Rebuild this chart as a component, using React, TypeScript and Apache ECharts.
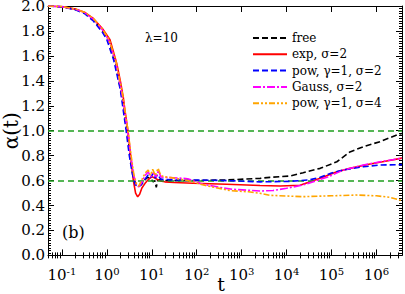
import React, { useEffect, useRef } from "react";
import * as echarts from "echarts";

// x values are log10(t)
const X_MIN = -1.31;
const X_MAX = 6.57;
const xMajorExps = [-1, 0, 1, 2, 3, 4, 5, 6];
const refLevels = [1.0, 0.6];

const freeCurve = [
  [-1.31, 2.0], [-1.0, 1.994], [-0.7, 1.972], [-0.5, 1.945], [-0.3, 1.89], [-0.1, 1.8],
  [0.05, 1.72], [0.2, 1.53], [0.35, 1.25], [0.45, 1.0], [0.52, 0.8], [0.58, 0.65],
  [0.64, 0.57], [0.7, 0.55], [0.76, 0.565], [0.83, 0.6], [0.9, 0.625], [0.97, 0.62],
  [1.03, 0.59], [1.07, 0.6], [1.1, 0.545], [1.13, 0.6], [1.2, 0.61], [1.3, 0.6],
  [1.5, 0.6], [1.92, 0.6], [2.67, 0.605], [3.41, 0.618], [3.63, 0.626], [4.08, 0.637],
  [4.37, 0.663], [4.75, 0.698], [5.12, 0.751], [5.41, 0.83], [5.71, 0.872], [6.08, 0.912],
  [6.49, 0.971], [6.57, 0.978],
];
const expCurve = [
  [-1.31, 2.0], [-1.0, 1.995], [-0.7, 1.975], [-0.5, 1.95], [-0.3, 1.9], [-0.1, 1.82],
  [0.07, 1.73], [0.22, 1.54], [0.3, 1.4], [0.365, 1.27], [0.4, 1.17], [0.47, 1.0],
  [0.53, 0.8], [0.59, 0.6], [0.64, 0.5], [0.686, 0.47], [0.73, 0.49], [0.78, 0.54],
  [0.85, 0.578], [0.93, 0.61], [1.0, 0.63], [1.07, 0.62], [1.145, 0.605], [1.22, 0.595],
  [1.29, 0.59], [1.5, 0.585], [1.92, 0.578], [2.67, 0.57], [3.41, 0.56], [3.86, 0.557],
  [4.3, 0.563], [4.75, 0.618], [5.12, 0.671], [5.41, 0.698], [5.86, 0.733], [6.2, 0.755],
  [6.57, 0.78],
];
const powCurve = [
  [-1.31, 2.0], [-1.0, 1.993], [-0.7, 1.97], [-0.5, 1.94], [-0.3, 1.88], [-0.1, 1.79],
  [0.0, 1.73], [0.15, 1.57], [0.3, 1.33], [0.43, 1.0], [0.5, 0.8], [0.57, 0.65],
  [0.63, 0.57], [0.7, 0.548], [0.77, 0.57], [0.85, 0.61], [0.92, 0.645], [0.98, 0.625],
  [1.03, 0.66], [1.08, 0.62], [1.13, 0.65], [1.2, 0.61], [1.3, 0.61], [1.5, 0.605],
  [1.92, 0.605], [2.67, 0.6], [3.41, 0.59], [3.63, 0.591], [4.08, 0.594], [4.5, 0.605],
  [4.75, 0.626], [5.0, 0.66], [5.27, 0.685], [5.71, 0.711], [6.08, 0.725], [6.57, 0.728],
];
const gaussCurve = [
  [-1.31, 2.0], [-1.0, 1.994], [-0.7, 1.974], [-0.5, 1.948], [-0.3, 1.895], [-0.1, 1.81],
  [0.05, 1.72], [0.2, 1.55], [0.35, 1.27], [0.46, 1.0], [0.53, 0.8], [0.6, 0.64],
  [0.66, 0.565], [0.71, 0.55], [0.77, 0.58], [0.85, 0.64], [0.92, 0.67], [0.98, 0.63],
  [1.03, 0.66], [1.1, 0.63], [1.15, 0.68], [1.2, 0.63], [1.3, 0.625], [1.6, 0.62],
  [1.8, 0.615], [2.14, 0.57], [2.3, 0.56], [2.6, 0.54], [2.8, 0.53], [3.41, 0.516],
  [3.7, 0.52], [4.0, 0.538], [4.37, 0.565], [4.9, 0.626], [5.27, 0.685], [5.71, 0.725],
  [6.08, 0.751], [6.57, 0.78],
];
const pow4Curve = [
  [-1.31, 2.0], [-1.0, 1.995], [-0.7, 1.976], [-0.5, 1.95], [-0.3, 1.9], [-0.1, 1.815],
  [0.05, 1.73], [0.2, 1.56], [0.35, 1.29], [0.47, 1.0], [0.54, 0.8], [0.6, 0.65],
  [0.66, 0.57], [0.71, 0.555], [0.77, 0.6], [0.85, 0.66], [0.92, 0.685], [0.97, 0.64],
  [1.02, 0.69], [1.08, 0.64], [1.14, 0.7], [1.2, 0.64], [1.3, 0.63], [1.5, 0.62],
  [1.8, 0.6], [2.2, 0.56], [2.74, 0.52], [3.15, 0.51], [3.41, 0.498], [3.63, 0.482],
  [4.37, 0.471], [5.0, 0.478], [5.55, 0.484], [6.0, 0.478], [6.3, 0.466], [6.57, 0.44],
];

const seriesNames = ["free", "exp, σ=2", "pow, γ=1, σ=2", "Gauss, σ=2", "pow, γ=1, σ=4"];
const seriesColors = ["#000000", "#ff0000", "#0000ff", "#ff00ff", "#ffa500"];
const seriesDash: any[] = [[6, 3], "solid", [6, 3], [8, 2, 2, 2], [6, 2, 2, 2, 2, 2]];
const seriesData = [freeCurve, expCurve, powCurve, gaussCurve, pow4Curve];

const FONT = "DejaVu Serif";

export default function App() {
  const ref = useRef<HTMLDivElement>(null);
  useEffect(() => {
    const chart = echarts.init(ref.current!, undefined, { renderer: "svg" });
    const xMinor: number[] = [];
    for (let k = -2; k <= 6; k++) {
      for (let m = 2; m <= 9; m++) {
        const v = k + Math.log10(m);
        if (v > X_MIN && v < X_MAX) xMinor.push(v);
      }
    }
    const axisLine = { show: true, onZero: false, lineStyle: { color: "#000", width: 1 } };
    const xAxisBase = (pos: string, ticks: number[], len: number, showLine: boolean) => ({
      type: "value",
      position: pos,
      min: X_MIN,
      max: X_MAX,
      gridIndex: 0,
      splitLine: { show: false },
      axisLine: showLine ? axisLine : { show: false },
      axisLabel: { show: false },
      axisTick: { show: true, inside: true, length: len, customValues: ticks, lineStyle: { color: "#000", width: 1 } },
    });
    const xAxes: any[] = [
      {
        ...xAxisBase("bottom", xMajorExps, 6, true),
        name: "t",
        nameLocation: "middle",
        nameGap: 18,
        nameMoveOverlap: false,
        nameTextStyle: { fontFamily: FONT, fontSize: 19, color: "#000", lineHeight: 17, padding: [2, 8, 0, 0] },
        axisLabel: {
          show: true,
          customValues: xMajorExps,
          margin: 11,
          formatter: (v: number) => `{b|10}{s|${Math.round(v)}}`,
          rich: {
            b: { fontFamily: FONT, fontSize: 15, color: "#000", lineHeight: 17 },
            s: { fontFamily: FONT, fontSize: 10, color: "#000", verticalAlign: "top", lineHeight: 10 },
          },
        },
      },
      xAxisBase("bottom", xMinor, 3, false),
      xAxisBase("top", xMajorExps, 6, true),
      xAxisBase("top", xMinor, 3, false),
    ];
    const yAxisBase = (pos: string, labels: boolean) => ({
      type: "value",
      position: pos,
      min: 0,
      max: 2,
      interval: 0.2,
      splitLine: { show: false },
      axisLine,
      axisTick: { show: true, inside: true, length: 6, lineStyle: { color: "#000" } },
      minorTick: { show: true, splitNumber: 10, length: 3, lineStyle: { color: "#000" } },
      axisLabel: {
        show: labels,
        margin: 3,
        formatter: (v: number) => v.toFixed(1),
        fontFamily: FONT,
        fontSize: 15,
        color: "#000",
      },
    });
    const yAxes: any[] = [
      {
        ...yAxisBase("left", true),
        name: "α(t)",
        nameLocation: "middle",
        nameGap: 27,
        nameMoveOverlap: false,
        nameTextStyle: { fontFamily: FONT, fontSize: 20, color: "#000" },
      },
      yAxisBase("right", false),
    ];
    const series: any[] = seriesNames.map((name, i) => ({
      name,
      type: "line",
      xAxisIndex: 0,
      yAxisIndex: 0,
      data: seriesData[i],
      symbol: "none",
      smooth: false,
      lineStyle: { color: seriesColors[i], width: 1.6, type: seriesDash[i] },
      itemStyle: { color: seriesColors[i] },
      z: 3 + i,
      ...(i === 0
        ? {
            markLine: {
              silent: true,
              symbol: ["none", "none"],
              label: { show: false },
              lineStyle: { color: "#1f9e1f", width: 1.5, type: [6, 4] },
              data: refLevels.map((v) => ({ yAxis: v })),
            },
          }
        : {}),
    }));
    chart.setOption({
      animation: false,
      grid: { left: 48, right: 3, top: 6, bottom: 38.6, containLabel: false, outerBoundsMode: "none" },
      xAxis: xAxes,
      yAxis: yAxes,
      legend: {
        data: seriesNames,
        orient: "vertical",
        left: 247,
        top: 25,
        itemWidth: 34,
        itemHeight: 12,
        itemGap: 0.3,
        itemStyle: { opacity: 0 },
        textStyle: { fontFamily: FONT, fontSize: 12, color: "#000", lineHeight: 16 },
        selectedMode: false,
      },
      graphic: [
        { type: "text", left: 145, top: 32, style: { text: "λ=10", fontFamily: FONT, fontSize: 12, fill: "#000" } },
        { type: "text", left: 62, top: 224, style: { text: "(b)", fontFamily: FONT, fontSize: 16, fill: "#000" } },
      ],
      series,
    });
    return () => chart.dispose();
  }, []);
  return <div ref={ref} style={{ position: "absolute", left: 0, top: 0, width: 405, height: 294 }} />;
}
